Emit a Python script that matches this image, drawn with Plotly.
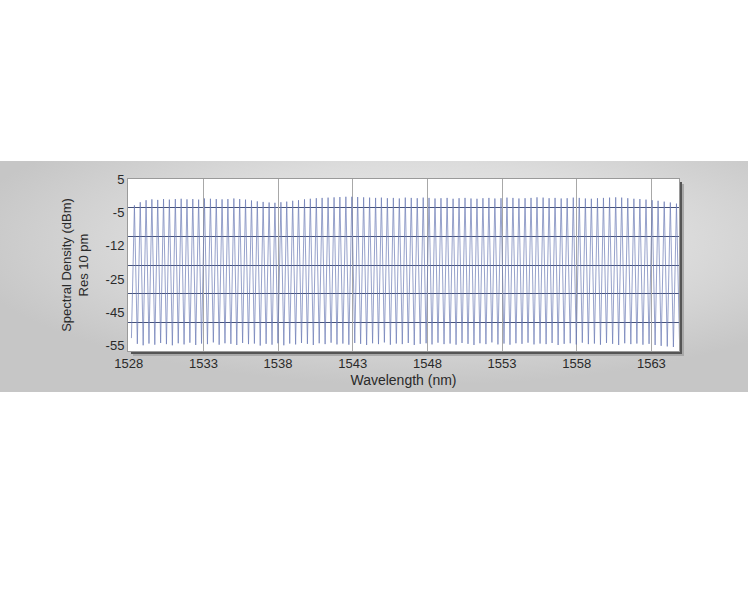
import base64
import plotly.graph_objects as go

# ITU 50 GHz grid channel wavelengths (nm)
channel_nm = [
    1528.38, 1528.77, 1529.16, 1529.55, 1529.94, 1530.33, 1530.72, 1531.12, 1531.51, 1531.90,
    1532.29, 1532.68, 1533.07, 1533.47, 1533.86, 1534.25, 1534.64, 1535.04, 1535.43, 1535.82,
    1536.22, 1536.61, 1537.00, 1537.40, 1537.79, 1538.19, 1538.58, 1538.98, 1539.37, 1539.77,
    1540.16, 1540.56, 1540.95, 1541.35, 1541.75, 1542.14, 1542.54, 1542.94, 1543.33, 1543.73,
    1544.13, 1544.53, 1544.92, 1545.32, 1545.72, 1546.12, 1546.52, 1546.92, 1547.32, 1547.72,
    1548.11, 1548.51, 1548.91, 1549.32, 1549.72, 1550.12, 1550.52, 1550.92, 1551.32, 1551.72,
    1552.12, 1552.52, 1552.93, 1553.33, 1553.73, 1554.13, 1554.54, 1554.94, 1555.34, 1555.75,
    1556.15, 1556.55, 1556.96, 1557.36, 1557.77, 1558.17, 1558.58, 1558.98, 1559.39, 1559.79,
    1560.20, 1560.61, 1561.01, 1561.42, 1561.83, 1562.23, 1562.64, 1563.05, 1563.45, 1563.86,
    1564.27, 1564.68,
]

# peak power of each channel (dBm)
peak_dbm = [
    -4.2, -3.1, -2.4, -2.1, -2.3, -2.0, -2.2, -2.0, -1.9, -2.1,
    -2.0, -2.2, -1.8, -1.9, -2.0, -2.1, -2.0, -1.8, -2.0, -2.2,
    -2.5, -2.8, -3.0, -3.2, -3.3, -3.1, -2.9, -2.6, -2.4, -2.1,
    -1.9, -1.7, -1.6, -1.5, -1.4, -1.3, -1.2, -1.2, -1.3, -1.4,
    -1.5, -1.6, -1.5, -1.7, -1.6, -1.8, -1.5, -1.6, -1.7, -1.5,
    -1.6, -1.8, -1.7, -1.6, -1.9, -1.7, -1.6, -1.8, -1.9, -1.7,
    -1.6, -1.8, -1.7, -1.5, -1.6, -1.8, -1.7, -1.6, -1.4, -1.5,
    -1.7, -1.6, -1.8, -1.7, -1.5, -1.6, -1.8, -1.9, -1.7, -1.6,
    -1.5, -1.4, -1.5, -1.7, -1.9, -2.0, -2.2, -2.4, -2.6, -2.9,
    -3.2, -3.6,
]

# floor between channels (dBm), one before each channel plus the last one
trough_dbm = [
    -50.5, -52.5, -53.0, -52.4, -52.8, -52.2, -52.6, -53.0, -52.3, -52.7,
    -52.1, -52.9, -52.4, -52.6, -52.0, -52.8, -52.3, -52.5, -52.9, -52.2,
    -52.6, -52.4, -53.1, -52.5, -52.8, -52.3, -53.0, -52.4, -52.7, -52.2,
    -52.5, -52.9, -52.3, -52.6, -52.1, -52.7, -52.4, -52.8, -52.2, -52.5,
    -52.9, -52.3, -52.6, -52.0, -52.8, -52.4, -52.6, -52.2, -52.9, -52.5,
    -52.3, -52.7, -52.1, -52.6, -52.4, -52.8, -52.2, -52.5, -52.9, -52.3,
    -52.6, -52.0, -52.7, -52.4, -52.8, -52.3, -52.5, -52.1, -52.7, -52.4,
    -52.6, -52.2, -52.9, -52.5, -52.3, -52.7, -52.1, -52.6, -52.4, -52.8,
    -52.2, -52.5, -52.9, -52.3, -52.6, -52.4, -52.8, -52.5, -52.9, -53.2,
    -53.4, -53.6, -51.0,
]

x_ticks = [1528, 1533, 1538, 1543, 1548, 1553, 1558, 1563]
y_tick_text = ["5", "-5", "-12", "-25", "-45", "-55"]
y_tick_pos = [5, -6.7, -18.3, -29.9, -41.5, -53.1]

# zigzag trace: trough, peak, trough, peak ...
xs, ys = [], []
for i, lam in enumerate(channel_nm):
    if i == 0:
        left = lam - 0.2
    else:
        left = (channel_nm[i - 1] + lam) / 2
    xs += [left, lam]
    ys += [trough_dbm[i], peak_dbm[i]]
xs.append(channel_nm[-1] + 0.2)
ys.append(trough_dbm[-1])

W, H = 748, 595
ml, mr, mt, mb = 128, 69, 179, 244
pw, ph = W - ml - mr, H - mt - mb

def px2paper_x(px):
    return (px - ml) / pw

def px2paper_y(py):
    return (H - mb - py) / ph

def paper_rect(x0, y0, x1, y1, color):
    # rectangle given in page pixels, drawn under the plot
    return dict(type="rect", xref="paper", yref="paper", layer="below",
                x0=px2paper_x(x0), x1=px2paper_x(x1),
                y0=px2paper_y(y1), y1=px2paper_y(y0),
                fillcolor=color, line=dict(width=0))

svg = (
    "<svg xmlns='http://www.w3.org/2000/svg' width='748' height='231' preserveAspectRatio='none'>"
    "<defs><radialGradient id='g' cx='0.56' cy='0.35' r='0.62'>"
    "<stop offset='0' stop-color='#efefef'/><stop offset='0.55' stop-color='#dcdcdc'/>"
    "<stop offset='1' stop-color='#c6c6c6'/></radialGradient></defs>"
    "<rect width='748' height='231' fill='url(#g)'/></svg>"
)
bg_src = "data:image/svg+xml;base64," + base64.b64encode(svg.encode()).decode()

font = "Arial, 'Liberation Sans', sans-serif"

fig = go.Figure()
fig.add_trace(go.Scatter(x=xs, y=ys, mode="lines",
                         line=dict(color="#6a7ab4", width=0.7),
                         hoverinfo="skip", showlegend=False))

fig.update_layout(
    width=W, height=H,
    margin=dict(l=ml, r=mr, t=mt, b=mb),
    paper_bgcolor="white",
    plot_bgcolor="rgba(0,0,0,0)",
    font=dict(family=font, size=13, color="#2a2a2a"),
    images=[dict(source=bg_src, xref="paper", yref="paper",
                 x=px2paper_x(0), y=px2paper_y(161),
                 sizex=W / pw, sizey=231 / ph,
                 sizing="stretch", xanchor="left", yanchor="top", layer="below")],
    shapes=[
        # drop shadow at right and bottom, then the white plot face
        paper_rect(ml + 5, mt + 5, ml + pw + 5, mt + ph + 5, "#a8a8a8"),
        paper_rect(ml + 3, mt + 3, ml + pw + 3, mt + ph + 3, "#555555"),
        paper_rect(ml, mt, ml + pw, mt + ph, "white"),
    ],
)

fig.update_xaxes(
    range=[1527.95, 1564.85],
    tickmode="array", tickvals=x_ticks,
    showgrid=True, gridcolor="#a8a8a8", gridwidth=1,
    zeroline=False, showline=True, linecolor="#9a9a9a", linewidth=1, mirror=True,
    ticks="", tickfont=dict(size=13, color="#2a2a2a"),
    title=dict(text="Wavelength (nm)", font=dict(size=14, color="#2a2a2a"), standoff=5),
)
fig.update_yaxes(
    range=[-55, 5],
    tickmode="array", tickvals=y_tick_pos, ticktext=y_tick_text,
    showgrid=False,
    minor=dict(tickmode="linear", tick0=5, dtick=10, showgrid=True,
               gridcolor="#46527a", gridwidth=1, ticklen=0),
    zeroline=False, showline=True, linecolor="#9a9a9a", linewidth=1, mirror=True,
    ticks="", tickfont=dict(size=13, color="#2a2a2a"),
    title=dict(text="Spectral Density (dBm)<br>Res 10 pm",
               font=dict(size=13, color="#2a2a2a"), standoff=14),
)

# drop the page's default 8px body margin so the figure sits at 0,0
fig.write_html("out.html", config={"displayModeBar": False},
               post_script="document.body.style.margin='0';")
